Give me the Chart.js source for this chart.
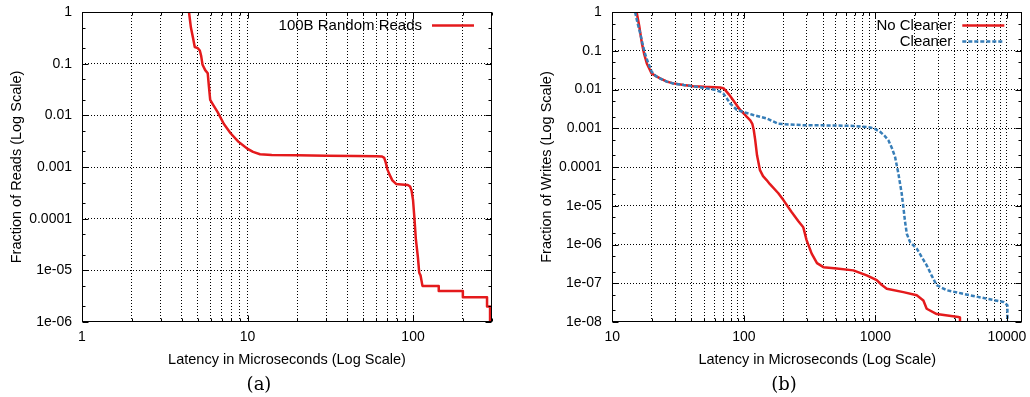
<!DOCTYPE html>
<html><head><meta charset="utf-8">
<script src="https://cdn.jsdelivr.net/npm/chart.js@4.4.1/dist/chart.umd.min.js"></script>
<style>
html,body{margin:0;padding:0;background:#fff;width:1030px;height:397px;overflow:hidden;}
#wrap{position:relative;width:1030px;height:397px;}
canvas{position:absolute;top:0;}
#c1{left:0;} #c2{left:515px;}
.cap{position:absolute;top:375px;font-family:"DejaVu Serif",serif;font-size:18px;line-height:18px;color:#000;transform:translateX(-50%);white-space:nowrap;}
</style></head><body>
<div id="wrap">
<canvas id="c1" width="515" height="397"></canvas>
<canvas id="c2" width="515" height="397"></canvas>
<div class="cap" style="left:259px">(a)</div>
<div class="cap" style="left:784px">(b)</div>
</div>
<script>
// ---------- data ----------
const readsLabel = '100B Random Reads';
const readsX = [4.43, 4.55, 4.7, 4.8, 5.0, 5.15, 5.25, 5.35, 5.55, 5.75, 5.85, 5.95, 6.2, 6.6, 7.2, 7.9, 8.8, 9.9, 10.8, 11.9, 14, 20, 30, 45, 60, 65, 67, 68.5, 70, 72, 75, 79, 85, 93, 96, 98, 100, 102, 104, 107, 109, 111, 114, 143, 143, 200, 200, 280, 280, 292, 292];
const readsY = [1, 0.5, 0.3, 0.21, 0.2, 0.18, 0.14, 0.095, 0.075, 0.065, 0.035, 0.02, 0.016, 0.0115, 0.0068, 0.0045, 0.0031, 0.0023, 0.00196, 0.00177, 0.0017, 0.00168, 0.00166, 0.00164, 0.00162, 0.0016, 0.0015, 0.0012, 0.0009, 0.00072, 0.00055, 0.00047, 0.00046, 0.00045, 0.00042, 0.00035, 0.00023, 0.0001, 4e-5, 1.8e-5, 9e-6, 8e-6, 5e-6, 5e-6, 4e-6, 4e-6, 3e-6, 3e-6, 2e-6, 2e-6, 1e-6];

const noCleanerLabel = 'No Cleaner';
const noCleanerX = [15.3, 16, 16.8, 17.5, 18.3, 19.9, 21.5, 23.1, 26, 29.1, 35, 41.3, 50, 60, 66, 70, 72, 77, 83, 93.5, 100, 105, 112, 116, 119, 122, 126, 132.7, 140, 149, 158, 183, 200, 230, 260, 283, 300, 328, 360, 403, 509, 680, 860, 1025, 1120, 1221, 1633, 2065, 2318, 2457, 2929, 4270, 4400, 4400];
const noCleanerY = [1, 0.45, 0.155, 0.08, 0.047, 0.026, 0.022, 0.0194, 0.016, 0.0144, 0.013, 0.0122, 0.0117, 0.0114, 0.0113, 0.0108, 0.0098, 0.0075, 0.0053, 0.003, 0.0024, 0.002, 0.0016, 0.0013, 0.0009, 0.0005, 0.0002, 8.3e-5, 5.8e-5, 4.6e-5, 3.6e-5, 2.1e-5, 1.4e-5, 7e-6, 4e-6, 2.8e-6, 1.3e-6, 5.8e-7, 3.3e-7, 2.6e-7, 2.4e-7, 2.15e-7, 1.6e-7, 1.2e-7, 9e-8, 7.2e-8, 5.9e-8, 4.9e-8, 3.6e-8, 2.2e-8, 1.6e-8, 1.35e-8, 1.3e-8, 1e-8];

const cleanerLabel = 'Cleaner';
const cleanerX = [14.9, 15.5, 16.3, 17, 17.7, 18.7, 19.9, 21.5, 23.1, 26, 29.1, 35, 41.3, 52.2, 60, 66, 69.8, 74, 78.5, 88.3, 100, 118, 149, 183, 283, 500, 680, 912, 1000, 1087, 1170, 1256, 1340, 1413, 1496, 1585, 1633, 1680, 1734, 1837, 2065, 2457, 2700, 2929, 3493, 5250, 7030, 9400, 10090, 10090];
const cleanerY = [1, 0.55, 0.28, 0.15, 0.085, 0.05, 0.029, 0.022, 0.0192, 0.016, 0.0143, 0.013, 0.0121, 0.0107, 0.0098, 0.0088, 0.0079, 0.006, 0.0044, 0.003, 0.0026, 0.0022, 0.0018, 0.0013, 0.0012, 0.00118, 0.00115, 0.00105, 0.00095, 0.00081, 0.00065, 0.00049, 0.0003, 0.00018, 6.8e-5, 2.1e-5, 9.3e-6, 4e-6, 1.9e-6, 1.15e-6, 7.8e-7, 2.9e-7, 1.5e-7, 8.9e-8, 6.6e-8, 4.9e-8, 4e-8, 3.3e-8, 2.7e-8, 1e-8];

// axis ranges and tick labels
const xRangeA = [1, 300];
const yRangeA = [1e-6, 1];
const xMajorA = [1, 10, 100];
const xMajorLabelsA = ['1', '10', '100'];
const yMajorA = [1, 0.1, 0.01, 0.001, 0.0001, 1e-5, 1e-6];
const yMajorLabelsA = ['1', '0.1', '0.01', '0.001', '0.0001', '1e-05', '1e-06'];

const xRangeB = [10, 13100];
const yRangeB = [1e-8, 1];
const xMajorB = [10, 100, 1000, 10000];
const xMajorLabelsB = ['10', '100', '1000', '10000'];
const yMajorB = [1, 0.1, 0.01, 0.001, 0.0001, 1e-5, 1e-6, 1e-7, 1e-8];
const yMajorLabelsB = ['1', '0.1', '0.01', '0.001', '0.0001', '1e-05', '1e-06', '1e-07', '1e-08'];

const xTitle = 'Latency in Microseconds (Log Scale)';
const yTitleA = 'Fraction of Reads (Log Scale)';
const yTitleB = 'Fraction of Writes (Log Scale)';

const RED = '#e41a1c', BLUE = '#377eb8';
const FONT = '"Liberation Sans", Arial, Helvetica, sans-serif';

// ---------- helpers ----------
function pts(xs, ys) { return xs.map((x, i) => ({x: x, y: ys[i]})); }
function decadeTicks(range, mults) {
  const out = [];
  for (let e = Math.floor(Math.log10(range[0])); e <= Math.ceil(Math.log10(range[1])); e++) {
    for (const m of mults) {
      const v = +(m * Math.pow(10, e)).toPrecision(6);
      if (v >= range[0] * 0.9999 && v <= range[1] * 1.0001) out.push(v);
    }
  }
  return out;
}
function isMajor(v) { const l = Math.log10(v); return Math.abs(l - Math.round(l)) < 1e-9; }

const framePlugin = {
  id: 'frame',
  afterDatasetsDraw(chart, args, opts) {
    const {ctx, chartArea: a, scales: {x, y}} = chart;
    ctx.save();
    ctx.strokeStyle = '#000';
    ctx.lineWidth = 1;
    ctx.setLineDash([]);
    const L = Math.round(a.left) + 0.5, R = Math.round(a.right) - 0.5;
    const T = Math.round(a.top) + 0.5, B = Math.round(a.bottom) - 0.5;
    ctx.strokeRect(L, T, R - L, B - T);
    ctx.beginPath();
    opts.xTicks.forEach(v => {
      const p = Math.round(x.getPixelForValue(v)) + 0.5;
      const len = isMajor(v) ? 6 : 3;
      ctx.moveTo(p, B); ctx.lineTo(p, B - len);
      ctx.moveTo(p, T); ctx.lineTo(p, T + len);
    });
    opts.yTicks.forEach(v => {
      const p = Math.round(y.getPixelForValue(v)) + 0.5;
      const len = isMajor(v) ? 6 : 3;
      ctx.moveTo(L, p); ctx.lineTo(L + len, p);
      ctx.moveTo(R, p); ctx.lineTo(R - len, p);
    });
    ctx.stroke();
    // key
    chart.data.datasets.forEach((ds, i) => {
      const yy = a.top + 13.5 + i * 16;
      ctx.font = '15px ' + FONT;
      ctx.fillStyle = '#000';
      ctx.textAlign = 'right';
      ctx.textBaseline = 'middle';
      ctx.fillText(ds.label, a.right - 70, yy);
      ctx.strokeStyle = ds.borderColor;
      ctx.lineWidth = ds.borderWidth;
      ctx.setLineDash(ds.borderDash || []);
      ctx.beginPath();
      ctx.moveTo(a.right - 60, yy);
      ctx.lineTo(a.right - 18, yy);
      ctx.stroke();
      ctx.setLineDash([]);
    });
    ctx.restore();
  }
};

function makeChart(id, datasets, cfg) {
  const xTicks = decadeTicks(cfg.xRange, [1,2,3,4,5,6,7,8,9]);
  const yMinor = decadeTicks(cfg.yRange, [1,2,5]);
  return new Chart(document.getElementById(id), {
    type: 'line',
    data: {datasets: datasets},
    plugins: [framePlugin],
    options: {
      responsive: false,
      animation: false,
      events: [],
      layout: {padding: {left: 0, right: cfg.padRight, top: 12, bottom: 0}},
      plugins: {legend: {display: false}, tooltip: {enabled: false}, title: {display: false},
        frame: {xTicks: xTicks, yTicks: yMinor}},
      elements: {point: {radius: 0}, line: {tension: 0, borderJoinStyle: 'round', borderCapStyle: 'butt'}},
      scales: {
        x: {
          type: 'logarithmic', min: cfg.xRange[0], max: cfg.xRange[1],
          afterBuildTicks: s => { s.ticks = xTicks.map(v => ({value: v, major: false})); },
          afterFit: s => { s.height = 75; s.paddingLeft = 0; s.paddingRight = 0; },
          border: {display: false, dash: [1, 2]},
          grid: {drawTicks: false, lineWidth: 1,
            color: c => (c.tick && c.tick.value > cfg.xRange[0] && c.tick.value < cfg.xRange[1]) ? '#000' : 'rgba(0,0,0,0)'},
          ticks: {autoSkip: false, maxRotation: 0, minRotation: 0, padding: 7, color: '#000',
            font: {family: FONT, size: 14},
            callback: v => { const i = cfg.xMajor.indexOf(v); return i >= 0 ? cfg.xMajorLabels[i] : ''; }},
          title: {display: true, text: xTitle, color: '#000', font: {family: FONT, size: 14.5},
            padding: {top: 0, bottom: 28.5}}
        },
        y: {
          type: 'logarithmic', min: cfg.yRange[0], max: cfg.yRange[1],
          afterBuildTicks: s => { s.ticks = cfg.yMajor.map(v => ({value: v, major: false})); },
          afterFit: s => { s.width = cfg.yWidth; s.paddingTop = 0; s.paddingBottom = 0; },
          border: {display: false, dash: [1, 2]},
          grid: {drawTicks: false, lineWidth: 1,
            color: c => (c.tick && c.tick.value > cfg.yRange[0] && c.tick.value < cfg.yRange[1]) ? '#000' : 'rgba(0,0,0,0)'},
          ticks: {autoSkip: false, padding: cfg.yPad, color: '#000',
            font: {family: FONT, size: 14},
            callback: v => { const i = cfg.yMajor.indexOf(v); return i >= 0 ? cfg.yMajorLabels[i] : ''; }},
          title: {display: true, text: cfg.yTitle, color: '#000', font: {family: FONT, size: 14.5},
            padding: {top: cfg.yTitlePad, bottom: 0}}
        }
      }
    }
  });
}

makeChart('c1', [
  {label: readsLabel, data: pts(readsX, readsY), borderColor: RED, borderWidth: 2.5, fill: false}
], {xRange: xRangeA, yRange: yRangeA, xMajor: xMajorA, xMajorLabels: xMajorLabelsA,
    yMajor: yMajorA, yMajorLabels: yMajorLabelsA, yTitle: yTitleA,
    padRight: 23, yWidth: 82, yPad: 10, yTitlePad: 8});

makeChart('c2', [
  {label: noCleanerLabel, data: pts(noCleanerX, noCleanerY), borderColor: RED, borderWidth: 2.5, fill: false, order: 1},
  {label: cleanerLabel, data: pts(cleanerX, cleanerY), borderColor: BLUE, borderWidth: 2.5, borderDash: [4, 2], fill: false, order: 0}
], {xRange: xRangeB, yRange: yRangeB, xMajor: xMajorB, xMajorLabels: xMajorLabelsB,
    yMajor: yMajorB, yMajorLabels: yMajorLabelsB, yTitle: yTitleB,
    padRight: 7.7, yWidth: 97.3, yPad: 10.6, yTitlePad: 23});
</script>
</body></html>
